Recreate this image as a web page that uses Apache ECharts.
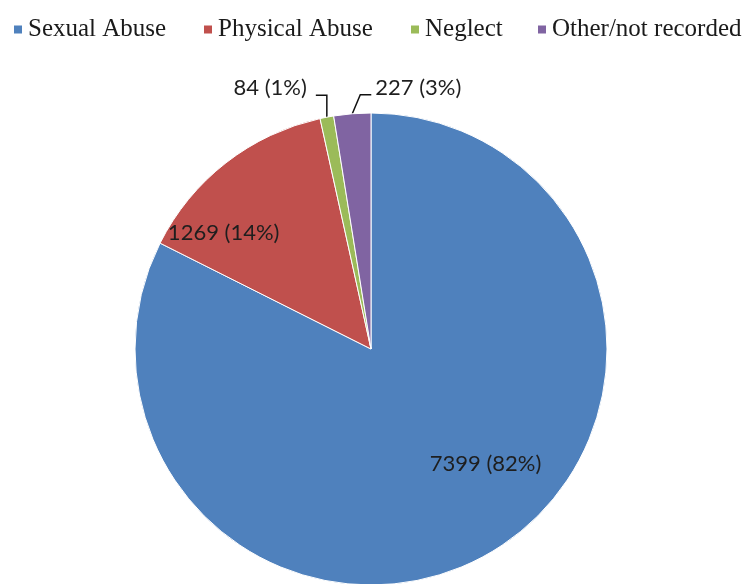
<!DOCTYPE html>
<html>
<head>
<meta charset="utf-8">
<script src="https://cdn.jsdelivr.net/npm/echarts@6/dist/echarts.min.js"></script>
<style>html,body{margin:0;padding:0;background:#fff}#c{width:748px;height:584px}</style>
</head>
<body>
<div id="c"></div>
<script>
const categories = ['Sexual Abuse', 'Physical Abuse', 'Neglect', 'Other/not recorded'];
const values = [7399, 1269, 84, 227];
const colors = ['#4F81BD', '#C0504D', '#9BBB59', '#8064A2'];

const chart = echarts.init(document.getElementById('c'), null, {renderer: 'canvas'});

const insideOffsets = [[51, 12], [-73, -21]];
const data = categories.map((name, i) => {
  const item = {name: name, value: values[i], itemStyle: {color: colors[i]}};
  if (i < 2) {
    item.label = {position: 'inside', offset: insideOffsets[i]};
    item.labelLine = {show: false};
  } else {
    item.label = {position: 'outside'};
    item.labelLine = {show: true, length: 18, length2: 10};
  }
  return item;
});

const legendLefts = [12, 202, 409, 536];
const legends = categories.map((name, i) => ({
  top: 17,
  left: legendLefts[i],
  padding: 0,
  icon: 'rect',
  itemWidth: 10,
  itemHeight: 10,
  data: [name],
  textStyle: {fontFamily: 'Liberation Serif', fontSize: 25, color: '#1a1a1a'}
}));

chart.setOption({
  backgroundColor: '#fff',
  animation: false,
  legend: legends,
  series: [{
    type: 'pie',
    center: [371, 349],
    radius: 236,
    startAngle: 90,
    clockwise: true,
    avoidLabelOverlap: false,
    percentPrecision: 0,
    itemStyle: {borderColor: '#fff', borderWidth: 1},
    label: {
      formatter: '{c} ({d}%)',
      fontFamily: 'Lato',
      fontSize: 22,
      color: '#1e1e1e'
    },
    labelLine: {lineStyle: {color: '#111', width: 1.5}, smooth: false},
    labelLayout: function (p) {
      if (!p.labelLinePoints) return {};
      const p0 = p.labelLinePoints[0];
      if (p.dataIndex === 2) {
        return {
          x: p0[0] - 20, y: p0[1] - 29, align: 'right', verticalAlign: 'middle',
          labelLinePoints: [p0, [p0[0], p0[1] - 22], [p0[0] - 11, p0[1] - 22]]
        };
      }
      if (p.dataIndex === 3) {
        return {
          x: p0[0] + 23, y: p0[1] - 26, align: 'left', verticalAlign: 'middle',
          labelLinePoints: [p0, [p0[0] + 8, p0[1] - 19], [p0[0] + 19, p0[1] - 19]]
        };
      }
      return {};
    },
    data: data
  }]
});
</script>
</body>
</html>
